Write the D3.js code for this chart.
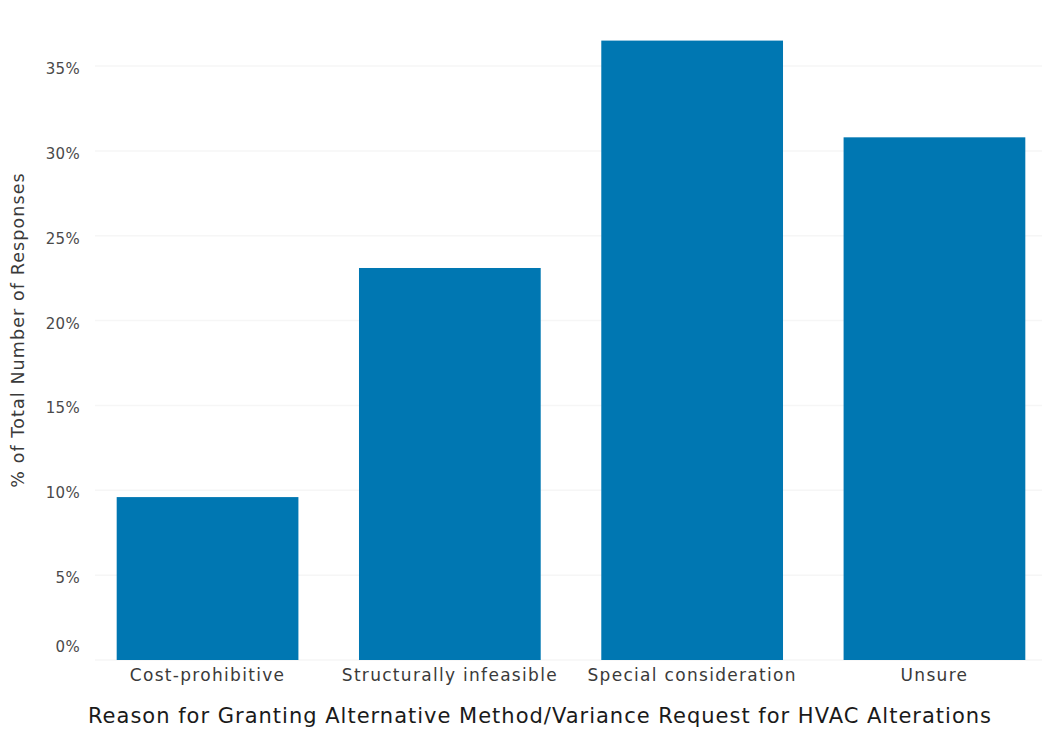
<!DOCTYPE html>
<html>
<head>
<meta charset="utf-8">
<script src="https://cdn.jsdelivr.net/npm/d3@7"></script>
<style>
  html, body { margin: 0; padding: 0; background: #fff; }
  svg { display: block; font-family: "DejaVu Sans", sans-serif; }
</style>
</head>
<body>
<svg id="chart" width="1042" height="730"></svg>
<script>
const categories = ["Cost-prohibitive", "Structurally infeasible", "Special consideration", "Unsure"];
const values = [9.6, 23.1, 36.5, 30.8];
const yTicks = [0, 5, 10, 15, 20, 25, 30, 35];
const xTitle = "Reason for Granting Alternative Method/Variance Request for HVAC Alterations";
const yTitle = "% of Total Number of Responses";

const svg = d3.select("#chart");
const W = 1042, H = 730;

const x = d3.scaleBand().domain(categories).range([86.4, 1055.6]).paddingInner(0.25).paddingOuter(0.125);
const y = d3.scaleLinear().domain([0, 38]).range([660, 660 - 38 * 16.97]);

// grid lines (very faint)
svg.append("g").selectAll("line").data(yTicks).join("line")
  .attr("x1", 95).attr("x2", W)
  .attr("y1", d => y(d)).attr("y2", d => y(d))
  .attr("stroke", "#f6f6f6").attr("stroke-width", 1.5);

// bars
svg.append("g").selectAll("rect").data(values).join("rect")
  .attr("x", (d, i) => x(categories[i]))
  .attr("width", x.bandwidth())
  .attr("y", d => y(d))
  .attr("height", d => y(0) - y(d))
  .attr("fill", "#0077b2");

// y axis labels
const yAxis = d3.axisLeft(y).tickValues(yTicks).tickFormat(d => d + "%").tickSize(0).tickPadding(0);
const gy = svg.append("g").attr("transform", "translate(80,0)").call(yAxis);
gy.select(".domain").remove();
gy.selectAll(".tick text")
  .attr("font-family", "DejaVu Sans, sans-serif")
  .attr("font-size", 15)
  .attr("fill", "#4a4a4a")
  .attr("letter-spacing", "0.3px")
  .attr("dy", d => d === 0 ? "-0.55em" : "0.5em");

// x axis labels
const xAxis = d3.axisBottom(x).tickSize(0).tickPadding(0);
const gx = svg.append("g").attr("transform", "translate(0,669)").call(xAxis);
gx.select(".domain").remove();
gx.selectAll(".tick text")
  .attr("font-family", "DejaVu Sans, sans-serif")
  .attr("font-size", 17)
  .attr("fill", "#3a3a3a")
  .attr("letter-spacing", "1.3px")
  .attr("dy", "0.71em");

// axis titles
svg.append("text")
  .attr("x", 540).attr("y", 723)
  .attr("text-anchor", "middle")
  .attr("font-size", 21)
  .attr("fill", "#1a1a1a")
  .attr("letter-spacing", "1px")
  .text(xTitle);

svg.append("text")
  .attr("transform", "translate(24,330) rotate(-90)")
  .attr("text-anchor", "middle")
  .attr("font-size", 17.5)
  .attr("fill", "#3a3a3a")
  .attr("letter-spacing", "1.1px")
  .text(yTitle);
</script>
</body>
</html>
